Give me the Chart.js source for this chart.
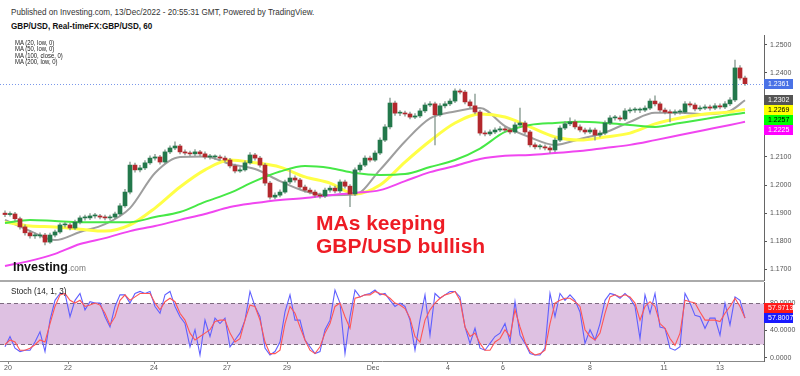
<!DOCTYPE html>
<html><head><meta charset="utf-8">
<script src="https://cdn.jsdelivr.net/npm/chart.js@4.4.1/dist/chart.umd.min.js"></script>
<style>
html,body{margin:0;padding:0;background:#fff;}
#wrap{position:relative;width:800px;height:376px;overflow:hidden;font-family:"Liberation Sans",Arial,sans-serif;background:#fff;}
.t{position:absolute;white-space:nowrap;transform-origin:0 0;transform:scaleX(0.9);line-height:1;color:#222;}
#c1{position:absolute;left:0;top:35px;}
#c2{position:absolute;left:0;top:281px;}
#sep{position:absolute;left:0;top:280px;width:764px;height:1.5px;background:#aaa;}
</style></head><body>
<div id="wrap">
<canvas id="c1" width="800" height="246" style="width:800px;height:246px"></canvas>
<canvas id="c2" width="800" height="95" style="width:800px;height:95px"></canvas>
<div id="sep"></div>
<div class="t" style="left:11px;top:7.8px;font-size:9px;color:#333;">Published on Investing.com, 13/Dec/2022 - 20:55:31 GMT, Powered by TradingView.</div>
<div class="t" style="left:11px;top:22.3px;font-size:9px;font-weight:bold;color:#111;">GBP/USD, Real-timeFX:GBP/USD, 60</div>
<div class="t" style="left:15px;top:40.2px;font-size:6.6px;">MA (20, low, 0)</div>
<div class="t" style="left:15px;top:46.4px;font-size:6.6px;">MA (50, low, 0)</div>
<div class="t" style="left:15px;top:52.6px;font-size:6.6px;">MA (100, close, 0)</div>
<div class="t" style="left:15px;top:58.7px;font-size:6.6px;">MA (200, low, 0)</div>
<div class="t" style="left:11px;top:286.6px;font-size:9px;">Stoch (14, 1, 3)</div>
<div class="t" style="left:13px;top:261px;font-size:12.5px;font-weight:bold;color:#111;transform:none;">Investing<span style="font-size:8.3px;font-weight:normal;color:#777;">.com</span></div>
<div class="t" style="left:316px;top:212.2px;font-size:21px;font-weight:bold;color:#ee1c25;transform:none;">MAs keeping</div>
<div class="t" style="left:316px;top:235.2px;font-size:21px;font-weight:bold;color:#ee1c25;transform:none;">GBP/USD bullish</div>
</div>
<script>
// ---- price candles (hourly bars, grouped) ----
const opens = [1.1900,1.1895,1.1897,1.1880,1.1851,1.1830,1.1819,1.1819,1.1822,1.1797,
1.1822,1.1833,1.1858,1.1858,1.1847,1.1868,1.1883,1.1883,1.1890,1.1890,
1.1886,1.1883,1.1886,1.1897,1.1926,1.1975,1.2071,1.2054,1.2061,1.2079,
1.2096,1.2100,1.2082,1.2118,1.2132,1.2139,1.2118,1.2114,1.2111,1.2118,
1.2111,1.2100,1.2100,1.2100,1.2096,1.2089,1.2068,1.2050,1.2054,1.2079,
1.2107,1.2096,1.2071,1.2007,1.1957,1.1964,1.1975,1.2011,1.2025,1.2018,
1.1993,1.1982,1.1975,1.1964,1.1961,1.1982,1.1989,1.1979,1.2011,1.1996,
1.1968,1.2054,1.2071,1.2096,1.2089,1.2114,1.2160,1.2207,1.2292,1.2256,
1.2256,1.2253,1.2242,1.2246,1.2264,1.2285,1.2289,1.2250,1.2282,1.2289,
1.2299,1.2335,1.2331,1.2296,1.2282,1.2260,1.2185,1.2182,1.2189,1.2196,
1.2200,1.2196,1.2189,1.2214,1.2221,1.2189,1.2143,1.2136,1.2136,1.2132,
1.2125,1.2160,1.2203,1.2218,1.2225,1.2207,1.2196,1.2189,1.2196,1.2178,
1.2185,1.2221,1.2239,1.2239,1.2235,1.2264,1.2267,1.2267,1.2267,1.2274,
1.2299,1.2289,1.2267,1.2260,1.2257,1.2260,1.2260,1.2289,1.2285,1.2271,
1.2274,1.2278,1.2274,1.2282,1.2278,1.2289,1.2303,1.2417,1.2381];
const closes = [1.1895,1.1897,1.1880,1.1851,1.1830,1.1819,1.1819,1.1822,1.1797,1.1822,
1.1833,1.1858,1.1858,1.1847,1.1868,1.1883,1.1883,1.1890,1.1890,1.1886,
1.1883,1.1886,1.1897,1.1926,1.1975,1.2071,1.2054,1.2061,1.2079,1.2096,
1.2100,1.2082,1.2118,1.2132,1.2139,1.2118,1.2114,1.2111,1.2118,1.2111,
1.2100,1.2100,1.2100,1.2096,1.2089,1.2068,1.2050,1.2054,1.2079,1.2107,
1.2096,1.2071,1.2007,1.1957,1.1964,1.1975,1.2011,1.2025,1.2018,1.1993,
1.1982,1.1975,1.1964,1.1961,1.1982,1.1989,1.1979,1.2011,1.1996,1.1968,
1.2054,1.2071,1.2096,1.2089,1.2114,1.2160,1.2207,1.2292,1.2256,1.2256,
1.2253,1.2242,1.2246,1.2264,1.2285,1.2289,1.2250,1.2282,1.2289,1.2299,
1.2335,1.2331,1.2296,1.2282,1.2260,1.2185,1.2182,1.2189,1.2196,1.2200,
1.2196,1.2189,1.2214,1.2221,1.2189,1.2143,1.2136,1.2136,1.2132,1.2125,
1.2160,1.2203,1.2218,1.2225,1.2207,1.2196,1.2189,1.2196,1.2178,1.2185,
1.2221,1.2239,1.2239,1.2235,1.2264,1.2267,1.2267,1.2267,1.2274,1.2299,
1.2289,1.2267,1.2260,1.2257,1.2260,1.2260,1.2289,1.2285,1.2271,1.2274,
1.2278,1.2274,1.2282,1.2278,1.2289,1.2303,1.2417,1.2381,1.2361];
const highs = [1.1908,1.1905,1.1903,1.1886,1.1858,1.1838,1.1829,1.1830,1.1828,1.1829,
1.1840,1.1865,1.1867,1.1864,1.1875,1.1890,1.1893,1.1898,1.1899,1.1896,
1.1893,1.1893,1.1904,1.1934,1.1985,1.2082,1.2078,1.2070,1.2087,1.2104,
1.2109,1.2106,1.2125,1.2140,1.2154,1.2145,1.2125,1.2121,1.2126,1.2124,
1.2118,1.2109,1.2108,1.2107,1.2103,1.2095,1.2075,1.2062,1.2086,1.2116,
1.2113,1.2102,1.2077,1.2013,1.1972,1.1983,1.2018,1.2054,1.2033,1.2024,
1.2000,1.1989,1.1982,1.1971,1.1989,1.1997,1.1996,1.2019,1.2018,1.2002,
1.2061,1.2079,1.2104,1.2103,1.2122,1.2168,1.2215,1.2310,1.2299,1.2265,
1.2263,1.2260,1.2254,1.2272,1.2293,1.2297,1.2295,1.2290,1.2297,1.2307,
1.2343,1.2342,1.2337,1.2303,1.2324,1.2267,1.2193,1.2197,1.2204,1.2208,
1.2207,1.2203,1.2222,1.2274,1.2228,1.2195,1.2150,1.2145,1.2143,1.2139,
1.2168,1.2211,1.2226,1.2239,1.2232,1.2214,1.2203,1.2204,1.2203,1.2193,
1.2229,1.2247,1.2248,1.2246,1.2272,1.2275,1.2276,1.2275,1.2282,1.2307,
1.2318,1.2295,1.2274,1.2268,1.2268,1.2269,1.2297,1.2296,1.2292,1.2282,
1.2286,1.2285,1.2290,1.2289,1.2297,1.2311,1.2445,1.2425,1.2388];
const lows = [1.1887,1.1889,1.1872,1.1843,1.1822,1.1811,1.1810,1.1812,1.1787,1.1792,
1.1815,1.1828,1.1850,1.1840,1.1842,1.1862,1.1875,1.1877,1.1882,1.1879,
1.1876,1.1876,1.1880,1.1890,1.1920,1.1968,1.2046,1.2047,1.2055,1.2073,
1.2089,1.2074,1.2077,1.2112,1.2126,1.2111,1.2107,1.2104,1.2105,1.2104,
1.2093,1.2092,1.2091,1.2089,1.2082,1.2061,1.2043,1.2045,1.2049,1.2074,
1.2089,1.2064,1.1999,1.1950,1.1951,1.1958,1.1970,1.2005,1.2010,1.1986,
1.1975,1.1968,1.1957,1.1953,1.1955,1.1975,1.1972,1.1973,1.1989,1.1923,
1.1962,1.2047,1.2065,1.2082,1.2084,1.2108,1.2154,1.2200,1.2248,1.2247,
1.2245,1.2235,1.2236,1.2240,1.2258,1.2279,1.2143,1.2244,1.2275,1.2283,
1.2293,1.2324,1.2289,1.2275,1.2253,1.2178,1.2175,1.2176,1.2183,1.2190,
1.2189,1.2182,1.2184,1.2208,1.2182,1.2136,1.2129,1.2128,1.2125,1.2114,
1.2119,1.2154,1.2197,1.2211,1.2200,1.2189,1.2182,1.2183,1.2160,1.2171,
1.2179,1.2215,1.2231,1.2228,1.2229,1.2257,1.2259,1.2258,1.2261,1.2268,
1.2282,1.2260,1.2253,1.2225,1.2250,1.2252,1.2254,1.2278,1.2264,1.2265,
1.2268,1.2267,1.2268,1.2271,1.2272,1.2283,1.2297,1.2374,1.2355];

// ---- moving averages, sampled at these bar indices ----
const maIdx = [0,5,10,15,20,25,30,35,40,45,50,55,60,65,70,75,80,85,90,95,100,105,110,115,120,125,130,135,140,145,148];
const ma20 = [1.1876,1.1837,1.1804,1.1833,1.1861,1.1918,1.2043,1.2100,1.2102,1.2075,1.2057,1.2014,1.1978,1.1964,1.1966,1.2054,1.2155,1.2237,1.2262,1.2274,1.2210,1.2170,1.2143,1.2164,1.2187,1.2225,1.2257,1.2257,1.2252,1.2264,1.2302];
const ma50 = [1.1868,1.1854,1.1851,1.1843,1.1836,1.1858,1.1918,1.1993,1.2054,1.2089,1.2079,1.2064,1.2029,1.2007,1.1968,1.2000,1.2082,1.2157,1.2221,1.2253,1.2242,1.2207,1.2171,1.2160,1.2171,1.2185,1.2218,1.2239,1.2253,1.2260,1.2269];
const ma100 = [1.1865,1.1876,1.1872,1.1868,1.1868,1.1868,1.1886,1.1904,1.1940,1.1972,1.2014,1.2048,1.2068,1.2061,1.2043,1.2036,1.2039,1.2064,1.2089,1.2130,1.2189,1.2214,1.2221,1.2225,1.2221,1.2214,1.2207,1.2221,1.2235,1.2250,1.2257];
const ma200 = [1.1712,1.1730,1.1755,1.1790,1.1811,1.1836,1.1854,1.1876,1.1897,1.1922,1.1936,1.1947,1.1954,1.1964,1.1972,1.1982,1.2014,1.2046,1.2068,1.2093,1.2104,1.2107,1.2114,1.2121,1.2132,1.2143,1.2160,1.2178,1.2196,1.2214,1.2225];

// ---- stochastic (14,1,3) ----
const stochK = [16,31,14,9,11,11,23,38,9,55,
84,94,94,60,84,94,70,82,80,80,
60,45,75,92,92,80,94,97,94,97,
75,65,92,97,75,60,50,16,41,4,
55,31,58,50,58,16,26,36,55,97,
75,60,14,4,9,23,67,92,55,55,
26,16,6,9,41,55,99,80,6,60,
99,89,92,94,99,92,94,84,75,80,
75,55,11,55,92,33,94,87,92,97,
97,89,45,21,43,14,11,21,31,36,
50,23,82,33,21,6,4,4,14,94,
60,94,84,92,84,67,21,41,26,50,
84,94,92,87,94,87,75,28,92,65,
94,45,43,14,11,16,94,80,62,60,
43,58,58,33,80,48,89,84,57.8007];
const stochD = [19,26,23,11,11,14,19,26,23,50,
75,92,94,84,80,84,75,77,80,77,
65,48,60,84,92,84,89,94,94,94,
80,70,82,87,82,65,55,36,26,31,
36,41,53,55,55,36,23,28,55,77,
75,55,23,6,6,11,50,75,65,45,
26,11,6,16,36,50,75,80,60,43,
87,89,92,92,97,94,92,87,80,77,
72,58,31,23,55,70,80,87,92,94,
97,84,45,31,36,21,11,11,23,28,
41,31,70,45,23,9,4,6,11,50,
80,84,87,87,82,75,41,31,26,36,
65,89,92,89,92,89,80,55,75,82,
75,50,43,28,18,36,84,82,80,67,
55,55,55,53,65,75,87,75,57.9713];

// ---- axes ----
const priceTicks = [1.17,1.18,1.19,1.20,1.21,1.22,1.23,1.24,1.25];
const stochTicks = [0,40,80];
const dateTickPos = [0.6,12.6,29.8,44.4,56.4,73.6,88.6,99.6,117,131.8,143];
const dateTickLabels = ['20','22','24','27','29','Dec','4','6','8','11','13'];

const FONT = '"Liberation Sans", Arial, sans-serif';
const X_MIN = -1, X_MAX = 151.8;
const UP = '#23784b', DOWN = '#b3282d';

function rightAxisFit(s){ s.width = 36; s.paddingTop = 0; s.paddingBottom = 0; }

function drawBoxes(chart, items, dir){
  const {ctx, chartArea:a, scales:{y}} = chart;
  items.forEach(it => it.py = y.getPixelForValue(it.v));
  if (dir > 0) {
    items.sort((p,q)=>p.py-q.py);
    let prev = -1e9;
    items.forEach(it => { it.py = Math.max(it.py, prev + 10); prev = it.py; });
  } else {
    items.sort((p,q)=>q.py-p.py);
    let prev = 1e9;
    items.forEach(it => { it.py = Math.min(it.py, prev - 10); prev = it.py; });
  }
  ctx.save();
  ctx.font = '7px ' + FONT;
  ctx.textBaseline = 'middle';
  items.forEach(it => {
    ctx.fillStyle = it.bg;
    ctx.fillRect(a.right, Math.round(it.py) - 5, 29, 10);
    ctx.fillStyle = it.fg;
    ctx.fillText(it.text, a.right + 4, Math.round(it.py) + 0.5);
  });
  ctx.restore();
}

const mainOverlay = {
  id: 'mainOverlay',
  beforeDatasetsDraw(chart){
    const {ctx, chartArea:a, scales:{y}} = chart;
    const py = Math.round(y.getPixelForValue(closes[closes.length-1])) + 0.5;
    ctx.save();
    ctx.strokeStyle = '#7a98ea';
    ctx.lineWidth = 1;
    ctx.setLineDash([1,2]);
    ctx.beginPath(); ctx.moveTo(a.left, py); ctx.lineTo(a.right, py); ctx.stroke();
    ctx.restore();
  },
  afterDraw(chart){
    const L = a => a[a.length-1];
    drawBoxes(chart, [
      {v:L(closes), text:L(closes).toFixed(4), bg:'#4a72e6', fg:'#fff'},
      {v:L(ma20), text:L(ma20).toFixed(4), bg:'#555', fg:'#fff'},
      {v:L(ma50), text:L(ma50).toFixed(4), bg:'#ffff00', fg:'#000'},
      {v:L(ma100), text:L(ma100).toFixed(4), bg:'#00ff00', fg:'#000'},
      {v:L(ma200), text:L(ma200).toFixed(4), bg:'#ff00ff', fg:'#fff'}
    ], 1);
  }
};

const stochOverlay = {
  id: 'stochOverlay',
  beforeDatasetsDraw(chart){
    const {ctx, chartArea:a, scales:{y}} = chart;
    const y80 = Math.round(y.getPixelForValue(80)) + 0.5;
    const y20 = Math.round(y.getPixelForValue(20)) + 0.5;
    ctx.save();
    ctx.fillStyle = 'rgb(222,193,226)';
    ctx.fillRect(a.left, y80, a.right - a.left, y20 - y80);
    ctx.strokeStyle = '#7d6a80';
    ctx.lineWidth = 1;
    ctx.setLineDash([4,3]);
    [y80, y20].forEach(py => { ctx.beginPath(); ctx.moveTo(a.left, py); ctx.lineTo(a.right, py); ctx.stroke(); });
    ctx.restore();
  },
  afterDraw(chart){
    const L = a => a[a.length-1];
    drawBoxes(chart, [
      {v:L(stochK), text:L(stochK).toFixed(4), bg:'#1a1aff', fg:'#fff'},
      {v:L(stochD), text:L(stochD).toFixed(4), bg:'#ff1a1a', fg:'#fff'}
    ], -1);
  }
};

const maLine = (vals, color, w) => ({
  type:'line', data: maIdx.map((x,k)=>({x, y: vals[k]})),
  borderColor: color, borderWidth: w, pointRadius: 0,
  cubicInterpolationMode: 'monotone', order: 5
});

new Chart(document.getElementById('c1'), {
  type: 'bar',
  data: { datasets: [
    maLine(ma200, 'rgb(240,70,240)', 2),
    maLine(ma100, 'rgb(70,232,70)', 2),
    maLine(ma50, 'rgb(255,255,70)', 3),
    maLine(ma20, 'rgb(158,158,158)', 2),
    { type:'bar', data: closes.map((c,i)=>({x:i, y:[lows[i], highs[i]]})),
      backgroundColor: 'rgba(130,150,140,0.8)', barThickness: 1, grouped: false, order: 2 },
    { type:'bar', data: closes.map((c,i)=>({x:i, y:[opens[i], c]})),
      backgroundColor: ctx => closes[ctx.dataIndex] >= opens[ctx.dataIndex] ? UP : DOWN,
      barThickness: 4, minBarLength: 1, grouped: false, order: 1 }
  ]},
  options: {
    responsive: false, animation: false, events: [],
    layout: { padding: 0 },
    plugins: { legend: { display: false }, tooltip: { enabled: false } },
    scales: {
      x: { type: 'linear', min: X_MIN, max: X_MAX, display: false, offset: false },
      y: {
        position: 'right', min: 1.16584, max: 1.25342,
        afterFit: rightAxisFit,
        afterBuildTicks: s => { s.ticks = priceTicks.map(v => ({value: v})); },
        ticks: { callback: v => Number(v).toFixed(4), font: { size: 7, family: FONT }, color: '#555', padding: 3 },
        grid: { drawOnChartArea: false, drawTicks: true, tickLength: 3, color: '#555' },
        border: { display: true, color: '#666', width: 1 }
      }
    }
  },
  plugins: [mainOverlay]
});

new Chart(document.getElementById('c2'), {
  type: 'line',
  data: { datasets: [
    { data: stochK.map((v,i)=>({x:i, y:v})), borderColor: 'rgb(95,95,255)', borderWidth: 1.1, pointRadius: 0, tension: 0, order: 2 },
    { data: stochD.map((v,i)=>({x:i, y:v})), borderColor: 'rgb(255,85,85)', borderWidth: 1.1, pointRadius: 0, tension: 0, order: 1 }
  ]},
  options: {
    responsive: false, animation: false, events: [],
    layout: { padding: { top: 1 } },
    plugins: { legend: { display: false }, tooltip: { enabled: false } },
    scales: {
      x: {
        type: 'linear', min: X_MIN, max: X_MAX, offset: false,
        afterFit: s => { s.height = 15; s.paddingLeft = 0; s.paddingRight = 0; },
        afterBuildTicks: s => { s.ticks = dateTickPos.map(v => ({value: v})); },
        ticks: { callback: (v, i) => dateTickLabels[i], autoSkip: false, maxRotation: 0, font: { size: 7, family: FONT }, color: '#555', padding: 0 },
        grid: { drawOnChartArea: false, drawTicks: true, tickLength: 3, color: '#888' },
        border: { display: true, color: '#888' }
      },
      y: {
        position: 'right', min: -4.8, max: 110.8,
        afterFit: rightAxisFit,
        afterBuildTicks: s => { s.ticks = stochTicks.map(v => ({value: v})); },
        ticks: { callback: v => Number(v).toFixed(4), font: { size: 7, family: FONT }, color: '#555', padding: 3 },
        grid: { drawOnChartArea: false, drawTicks: true, tickLength: 3, color: '#555' },
        border: { display: true, color: '#666', width: 1 }
      }
    }
  },
  plugins: [stochOverlay]
});
</script>
</body></html>
